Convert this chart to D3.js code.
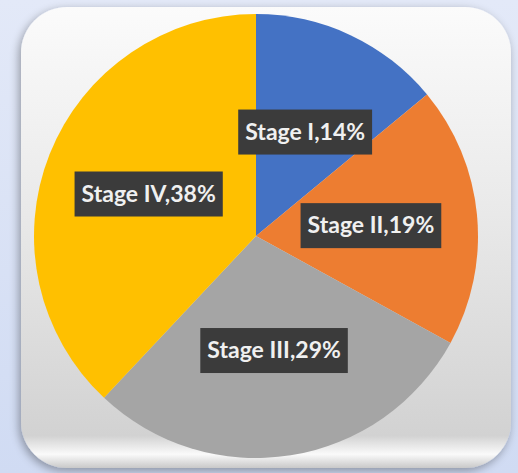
<!DOCTYPE html>
<html><head><meta charset="utf-8">
<script src="https://cdn.jsdelivr.net/npm/d3@7"></script>
<style>html,body{margin:0;padding:0;background:#d6dff5;}svg{display:block;}</style>
</head><body>
<svg id="chart" width="518" height="473"></svg>
<script>
const categories = ["Stage I", "Stage II", "Stage III", "Stage IV"];
const values = [14, 19, 29, 38];
const colors = ["#4472C4", "#ED7D31", "#A5A5A5", "#FFC000"];

const svg = d3.select("#chart");
const defs = svg.append("defs");

const bg = defs.append("linearGradient").attr("id","bgGrad").attr("x1",0).attr("y1",0).attr("x2",0).attr("y2",1);
bg.append("stop").attr("offset","0%").attr("stop-color","#e3e9f8");
bg.append("stop").attr("offset","100%").attr("stop-color","#d0dbf3");
svg.append("rect").attr("width",518).attr("height",473).attr("fill","url(#bgGrad)");

const shadow = defs.append("filter").attr("id","shadow").attr("x","-10%").attr("y","-10%").attr("width","120%").attr("height","120%");
shadow.append("feGaussianBlur").attr("in","SourceAlpha").attr("stdDeviation",5);
shadow.append("feOffset").attr("dx",-2).attr("dy",3).attr("result","b");
shadow.append("feComponentTransfer").append("feFuncA").attr("type","linear").attr("slope",0.35);
const fm = shadow.append("feMerge"); fm.append("feMergeNode"); fm.append("feMergeNode").attr("in","SourceGraphic");

const card = defs.append("linearGradient").attr("id","cardGrad").attr("x1",0).attr("y1",0).attr("x2",0).attr("y2",1);
card.append("stop").attr("offset","0%").attr("stop-color","#fbfbfb");
card.append("stop").attr("offset","45%").attr("stop-color","#e9e9e9");
card.append("stop").attr("offset","93%").attr("stop-color","#d2d2d2");
card.append("stop").attr("offset","97%").attr("stop-color","#fafafa");
card.append("stop").attr("offset","100%").attr("stop-color","#c9c9c9");

svg.append("rect").attr("x",21).attr("y",7).attr("width",490).attr("height",461)
  .attr("rx",46).attr("ry",46).attr("fill","url(#cardGrad)").attr("filter","url(#shadow)");

const cx = 256, cy = 236, r = 222;
const g = svg.append("g").attr("transform",`translate(${cx},${cy})`);
const pie = d3.pie().sort(null).value(d => d.v);
const data = pie(categories.map((c,i)=>({c, v: values[i], col: colors[i]})));
const arc = d3.arc().innerRadius(0).outerRadius(r);
g.selectAll("path.slice").data(data).enter().append("path")
  .attr("class","slice").attr("d",arc).attr("fill",d=>d.data.col);

const labelArc = d3.arc().innerRadius(r*0.52).outerRadius(r*0.52);
const lg = g.selectAll("g.lbl").data(data).enter().append("g").attr("class","lbl")
  .attr("transform",d=>{const [x,y]=labelArc.centroid(d);return `translate(${x},${y})`;});
const txt = lg.append("text").attr("text-anchor","middle").attr("dy","0.35em")
  .attr("font-family","Lato, 'Open Sans', sans-serif").attr("font-weight","bold").attr("font-size",23)
  .attr("fill","#f0f0f0").text(d=>`${d.data.c},${d.data.v}%`);
lg.each(function(){
  const gg=d3.select(this); const t=gg.select("text").node().getBBox();
  gg.insert("rect","text").attr("x",t.x-7).attr("y",-22).attr("width",t.width+14).attr("height",45).attr("fill","#3b3b3b");
});
</script>
</body></html>
